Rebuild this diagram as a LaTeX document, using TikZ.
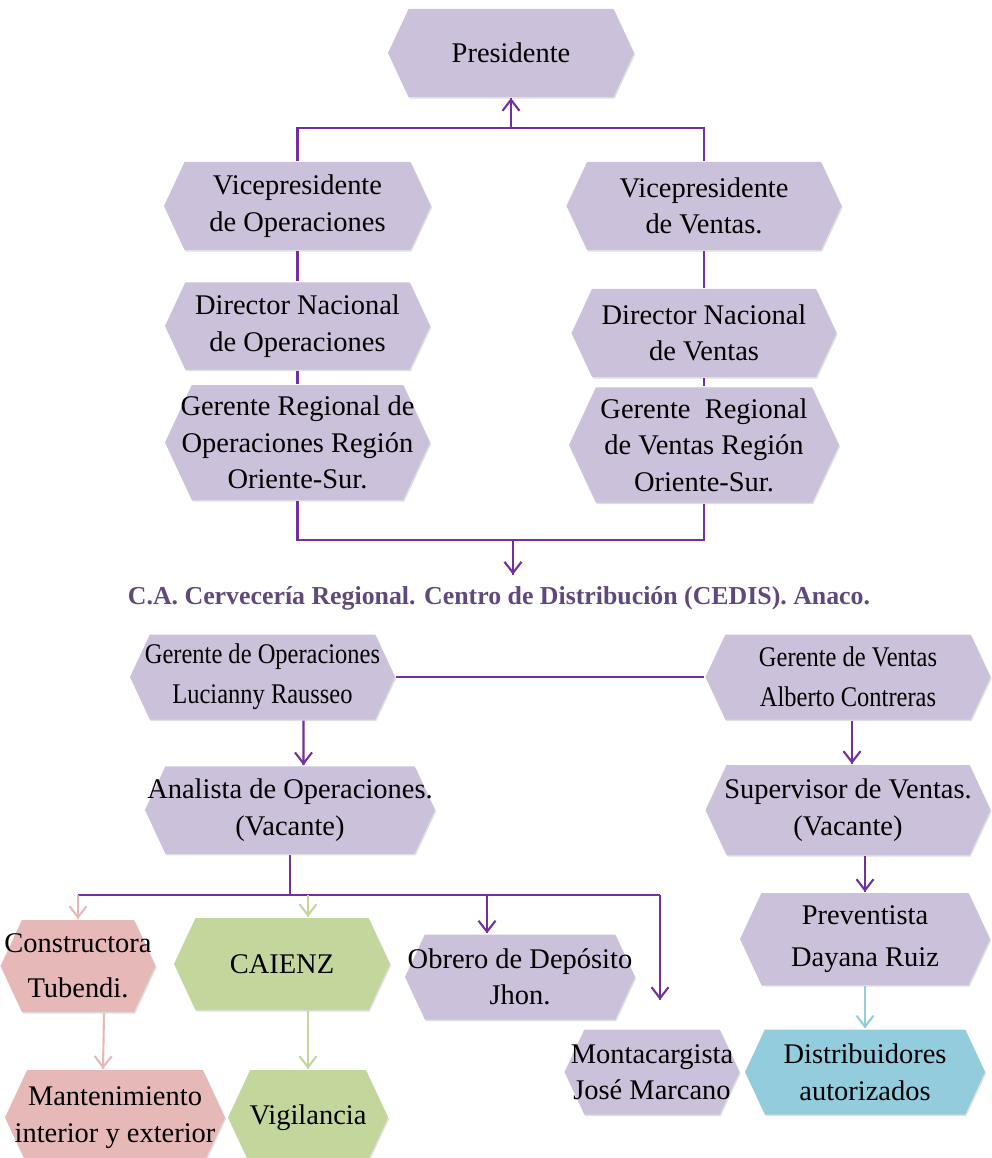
\documentclass[tikz,border=0pt]{standalone}
\usepackage{fontspec}
\setmainfont{Liberation Serif}
\newfontfamily\estrecha[FakeStretch=0.86]{Liberation Serif}
\usepackage{tikz}
\usetikzlibrary{positioning}
\usetikzlibrary{arrows.meta}
\usetikzlibrary{shapes.symbols}
\usetikzlibrary{shadows}
\usetikzlibrary{decorations.markings}
\definecolor{lila}{HTML}{CCC1DA}
\definecolor{rosa}{HTML}{E6B9B8}
\definecolor{oliva}{HTML}{C3D69B}
\definecolor{celeste}{HTML}{93CDDD}
\definecolor{linea}{HTML}{7030A0}
\definecolor{titulo}{HTML}{5F497A}
\tikzset{arrowed/.style = {decoration={markings,
                                  mark=at position 0.999
                                  with {\arrow{Straight Barb[length=2.2mm,width=3.4mm]}}},
                      postaction={decorate}}}
\tikzset{hexa/.style = {signal, signal to=west and east, signal pointer angle=130,
                        fill=lila, align=center, inner ysep=0pt, inner xsep=-0.8cm,
                        font=\fontsize{16.2}{20.8}\selectfont,
                        drop shadow={opacity=0.25, shadow xshift=0.6pt, shadow yshift=-0.9pt}}}
\tikzset{every picture/.style={
    every path/.style={very thick},
}}

\begin{document}
\begin{tikzpicture}
      \useasboundingbox (0,0) rectangle (19.84,-23.16);
      \node[hexa, minimum width=4.92cm, minimum height=1.76cm] (pres) at (10.22,-1.06) {Presidente};
      \node[hexa, minimum width=5.34cm, minimum height=1.76cm] (vpo) at (5.95,-4.12) {Vicepresidente\\de Operaciones};
      \node[hexa, minimum width=5.5cm, minimum height=1.76cm] (vpv) at (14.08,-4.12) {Vicepresidente\\de Ventas.};
      \node[hexa, minimum width=5.3cm, minimum height=1.74cm] (dno) at (5.95,-6.52) {Director Nacional\\de Operaciones};
      \node[hexa, minimum width=5.3cm, minimum height=1.76cm] (dnv) at (14.08,-6.66) {Director Nacional\\de Ventas};
      \node[hexa, minimum width=5.3cm, minimum height=2.3cm] (gro) at (5.95,-8.85) {Gerente Regional de\\Operaciones Región\\Oriente-Sur.};
      \node[hexa, minimum width=5.4cm, minimum height=2.3cm] (grv) at (14.08,-8.9) {Gerente\ \ Regional\\de Ventas Región\\Oriente-Sur.};
      \node[font=\bfseries\fontsize{14.7}{17}\selectfont, text=titulo, inner sep=6pt] (tit) at (9.98,-11.96) {C.A. Cervecería Regional. Centro de Distribución (CEDIS). Anaco.};
      \node[hexa, minimum width=5.3cm, minimum height=1.7cm] (gop) at (5.25,-13.54) {\estrecha Gerente de Operaciones\\[2pt]\estrecha Lucianny Rausseo};
      \node[hexa, minimum width=5.7cm, minimum height=1.7cm] (gve) at (16.96,-13.54) {\estrecha Gerente de Ventas\\[2pt]\estrecha Alberto Contreras};
      \node[hexa, minimum width=5.8cm, minimum height=1.75cm] (ana) at (5.8,-16.2) {Analista de Operaciones.\\(Vacante)};
      \node[hexa, minimum width=5.7cm, minimum height=1.8cm] (sup) at (16.96,-16.2) {Supervisor de Ventas.\\(Vacante)};
      \node[hexa, minimum width=5cm, minimum height=1.84cm] (pre) at (17.3,-18.78) {Preventista\\[3pt]Dayana Ruiz};
      \node[hexa, fill=celeste, minimum width=4.8cm, minimum height=1.7cm] (dis) at (17.3,-21.44) {Distribuidores\\autorizados};
      \node[hexa, fill=rosa, minimum width=3.1cm, minimum height=1.84cm] (con) at (1.56,-19.32) {Constructora\\[5pt]Tubendi.};
      \node[hexa, fill=oliva, minimum width=4.32cm, minimum height=1.84cm] (cai) at (5.64,-19.28) {CAIENZ};
      \node[hexa, minimum width=4.6cm, minimum height=1.7cm] (obr) at (10.4,-19.54) {Obrero de Depósito\\Jhon.};
      \node[hexa, minimum width=3.5cm, minimum height=1.7cm] (mon) at (13.04,-21.44) {Montacargista\\José Marcano};
      \node[hexa, fill=rosa, minimum width=4.4cm, minimum height=1.9cm] (man) at (2.3,-22.35) {Mantenimiento\\interior y exterior};
      \node[hexa, fill=oliva, minimum width=3.2cm, minimum height=1.9cm] (vig) at (6.16,-22.35) {Vigilancia};
      \coordinate (top) at (10.22,-2.56);
      \coordinate (bot) at (10.26,-10.8);
      \coordinate (split) at (5.8,-17.9);
      \coordinate (mtop) at (13.2,-20.0);
      \draw[linea] (vpo.north) |- (top) -| (vpv.north);
      \draw[linea, arrowed] (top) -- (pres.south);
      \draw[linea] (vpo.south) -- (dno.north);
      \draw[linea] (dno.south) -- (gro.north);
      \draw[linea] (vpv.south) -- (dnv.north);
      \draw[linea] (dnv.south) -- (grv.north);
      \draw[linea] (gro.south) |- (bot) -| (grv.south);
      \draw[linea, arrowed] (bot) -- (bot |- tit.north);
      \draw[linea] (gop.east) -- (gve.west);
      \draw[linea, arrowed] ([xshift=0.82cm]gop.south) -- ([xshift=0.27cm]ana.north);
      \draw[linea, arrowed] ([xshift=0.08cm]gve.south) -- ([xshift=0.08cm]sup.north);
      \draw[linea, arrowed] (sup.south -| pre.north) -- (pre.north);
      \draw[celeste, arrowed] (pre.south) -- (dis.north);
      \draw[linea] (ana.south) -- (split);
      \draw[linea] (con.north |- split) -- (mtop |- split);
      \draw[rosa, arrowed] (con.north |- split) -- (con.north);
      \draw[oliva, arrowed] (split -| vig.north) -- (cai.north -| vig.north);
      \draw[linea, arrowed] ([xshift=-0.66cm]obr.north |- split) -- ([xshift=-0.66cm]obr.north);
      \draw[linea, arrowed] (mtop |- split) -- (mtop);
      \draw[rosa, arrowed] ([xshift=0.52cm]con.south) -- ([xshift=-0.24cm]man.north);
      \draw[oliva, arrowed] (cai.south -| vig.north) -- (vig.north);
\end{tikzpicture}
\end{document}
